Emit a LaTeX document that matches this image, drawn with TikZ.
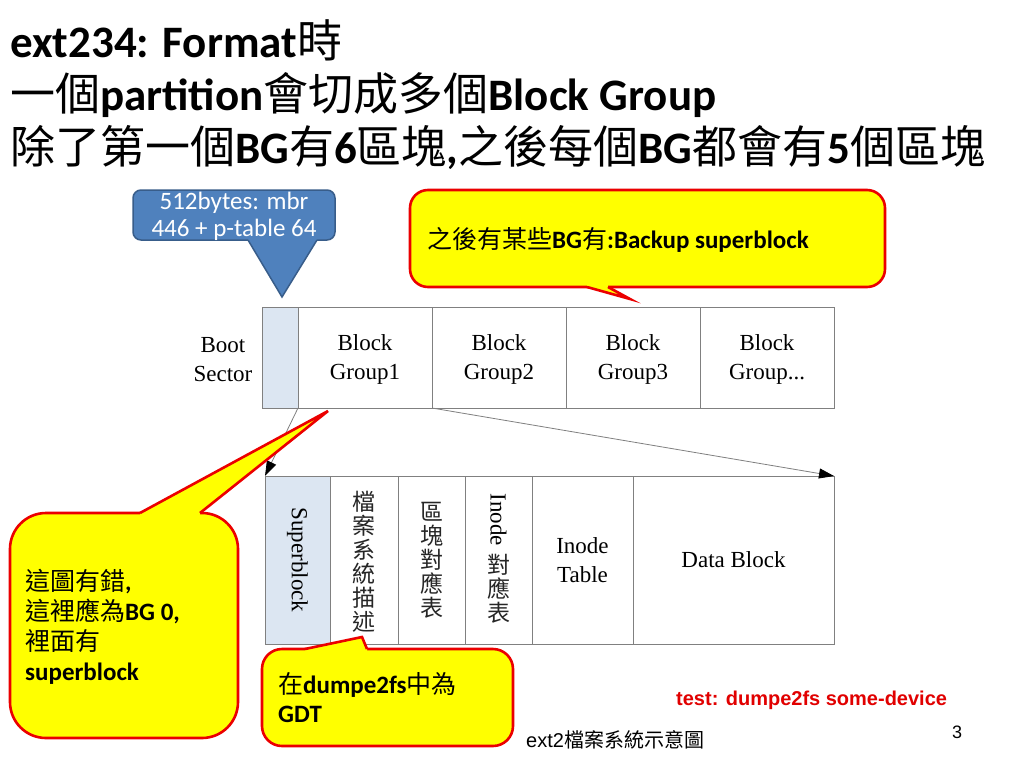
\documentclass[tikz,border=0pt]{standalone}
\usepackage{fontspec}
\setmainfont{Liberation Serif}
\newfontfamily\calfont{Carlito}
\newfontfamily\zhfont{Noto Sans CJK TC}
\newfontfamily\arfont{Liberation Sans}
\usetikzlibrary{arrows.meta}
\newcommand\zh[1]{{\zhfont\mdseries #1}}
\definecolor{lb}{RGB}{220,230,242}
\definecolor{gridc}{RGB}{128,128,128}
\definecolor{cred}{RGB}{235,0,0}
\definecolor{cyel}{RGB}{255,255,0}
\definecolor{bfill}{RGB}{79,129,189}
\definecolor{bline}{RGB}{56,93,138}
\definecolor{tred}{RGB}{225,0,0}
\tikzset{
  cell/.style={draw=gridc, line width=0.9pt, inner sep=0pt, outer sep=0pt,
    align=center, font=\fontsize{23}{29}\selectfont},
  clab/.style={inner sep=0pt, align=center, font=\fontsize{23}{29}\selectfont},
  vlab/.style={inner sep=0pt, align=center, text=black!85,
    font=\fontsize{23}{24}\selectfont\zhfont},
  ttl/.style={anchor=base west, inner sep=0pt,
    font=\calfont\bfseries\fontsize{45}{54}\selectfont},
  ctxt/.style={anchor=base west, inner sep=0pt,
    font=\calfont\bfseries\fontsize{25}{30}\selectfont},
  yell/.style={fill=cyel, draw=cred, line width=2.6pt},
  yedge/.style={draw=cred, line width=2.6pt, line join=miter},
  blue/.style={fill=bfill, draw=bline, line width=1.5pt},
  bedge/.style={draw=bline, line width=1.5pt, line join=miter},
  conn/.style={draw=gridc, line width=0.8pt,
    -{Triangle[length=15pt,width=10pt,color=black]}},
}
\begin{document}
\begin{tikzpicture}[x=1pt,y=-1pt]
\useasboundingbox[fill=white] (0,0) rectangle (1024,768);

% title
\node[ttl] (t1) at (10,57.5) {ext234: Format\zh{時}};
\node[ttl] (t2) at (10,110.5) {\zh{一個}partition\zh{會切成多個}Block Group};
\node[ttl] (t3) at (10,163.5) {\zh{除了第一個}BG\zh{有}6\zh{區塊},\zh{之後每個}BG\zh{都會有}5\zh{個區塊}};

% top row
\node[cell, fill=lb, minimum width=36pt, minimum height=100.5pt] (boot) at (280,357.75) {};
\node[cell, minimum width=134pt, minimum height=100.5pt] (bg1) at (365,357.75) {};
\node[cell, minimum width=134pt, minimum height=100.5pt] (bg2) at (499,357.75) {};
\node[cell, minimum width=134pt, minimum height=100.5pt] (bg3) at (633,357.75) {};
\node[cell, minimum width=134pt, minimum height=100.5pt] (bgn) at (767,357.75) {};
\node[clab] (bg1lab) at (365,359.5) {Block\\Group1};
\node[clab] (bg2lab) at (499,359.5) {Block\\Group2};
\node[clab] (bg3lab) at (633,359.5) {Block\\Group3};
\node[clab] (bgnlab) at (767,359.5) {Block\\Group...};
\node[clab] (bootlab) at (223,359.5) {Boot\\Sector};

% bottom row
\node[cell, fill=lb, minimum width=65pt, minimum height=168pt] (sb) at (297.5,560) {};
\node[cell, minimum width=68pt, minimum height=168pt] (gd) at (364,560) {};
\node[cell, minimum width=67pt, minimum height=168pt] (bm) at (431.5,560) {};
\node[cell, minimum width=67pt, minimum height=168pt] (im) at (498.5,560) {};
\node[cell, minimum width=101pt, minimum height=168pt] (itab) at (582.5,560) {Inode\\Table};
\node[cell, minimum width=201pt, minimum height=168pt] (db) at (733.5,560) {Data Block};

\node[inner sep=0pt, rotate=-90, font=\fontsize{23}{29}\selectfont] (sblab) at (297.5,560) {Superblock};
\node[vlab] (gdlab) at (364,562) {檔\\案\\系\\統\\描\\述};
\node[vlab] (bmlab) at (431.5,560) {區\\塊\\對\\應\\表};
\node[inner sep=0pt, rotate=-90, font=\fontsize{23}{29}\selectfont] (imlab1) at (498.5,520) {Inode};
\node[vlab] (imlab2) at (498.5,589) {對\\應\\表};

% connectors
\draw[conn] (boot.south east) -- (sb.north west);
\draw[conn] (bg1.south east) -- (db.north east);

% blue callout
\draw[blue, rounded corners=8pt] (133,190) rectangle (335,240);
\fill[bfill] (248,236) -- (248,240) -- (282,297) -- (317,240) -- (317,236) -- cycle;
\draw[bedge] (248,240) -- (282,297) -- (317,240);
\node[anchor=base, inner sep=0pt, text=white, font=\calfont\fontsize{25}{30}\selectfont] (b1) at (234,209) {512bytes: mbr};
\node[anchor=base, inner sep=0pt, text=white, font=\calfont\fontsize{25}{30}\selectfont] (b2) at (234,236) {446 + p-table 64};

% top yellow callout
\draw[yell, rounded corners=18pt] (410,190) rectangle (885,287);
\fill[cyel] (587,283) -- (587,287) -- (630,299) -- (608,287) -- (608,283) -- cycle;
\draw[yedge] (587,287) -- (630,299) -- (608,287);
\node[ctxt] (c1) at (427,248.5) {\zh{之後有某些}BG\zh{有}:Backup superblock};

% left yellow callout
\draw[yell, rounded corners=36pt] (10,513) rectangle (238,738);
\fill[cyel] (140,517) -- (140,513) -- (328,411) -- (200,513) -- (200,517) -- cycle;
\draw[yedge] (140,513) -- (328,411) -- (200,513);
\node[ctxt] (l1) at (25,590) {\zh{這圖有錯},};
\node[ctxt] (l2) at (25,620) {\zh{這裡應為}BG 0,};
\node[ctxt] (l3) at (25,650) {\zh{裡面有}};
\node[ctxt] (l4) at (25,680) {superblock};

% bottom yellow callout
\draw[yell, rounded corners=20pt] (262,649) rectangle (513,746);
\fill[cyel] (305,653) -- (305,649) -- (362,637) -- (367,649) -- (367,653) -- cycle;
\draw[yedge] (305,649) -- (362,637) -- (367,649);
\node[ctxt] (g1) at (278,693) {\zh{在}dumpe2fs\zh{中為}};
\node[ctxt] (g2) at (278,722) {GDT};

% footer texts
\node[anchor=base west, inner sep=0pt, text=tred, font=\arfont\bfseries\fontsize{20}{24}\selectfont] (test) at (676,705) {test: dumpe2fs some-device};
\node[anchor=base west, inner sep=0pt, font=\arfont\fontsize{20}{24}\selectfont] (foot) at (526,747) {ext2\zh{檔案系統示意圖}};
\node[anchor=base west, inner sep=0pt, font=\arfont\fontsize{18}{22}\selectfont] (pg) at (952,738) {3};
\end{tikzpicture}
\end{document}
